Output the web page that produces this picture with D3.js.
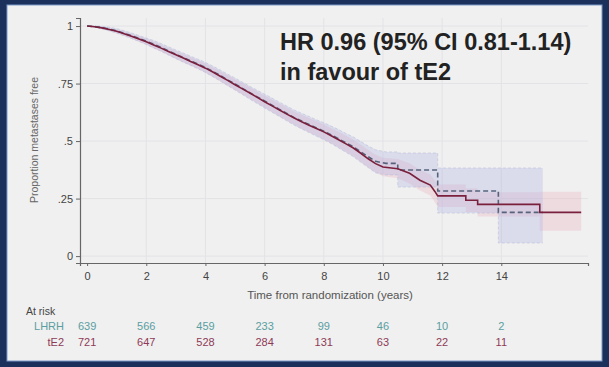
<!DOCTYPE html>
<html>
  <head>
    <script src="https://d3js.org/d3.v7.min.js"></script>
    <style>
      body { margin: 0; background: #f0f0f0; }
      text { font-family: "Liberation Sans", Arial, sans-serif; }
    </style>
  </head>
  <body>
    <script>

    // Kaplan-Meier estimates (years, proportion free);
    // a repeated time is a vertical drop of the step curve
    const lhrhTime = [0, .25, .5, .75, 1, 1.25, 1.5, 1.75, 2, 2.25, 2.5, 2.75, 3, 3.25, 3.5, 3.75, 4, 4.25, 4.5, 4.75,
      5, 5.25, 5.5, 5.75, 6, 6.25, 6.5, 6.75, 7, 7.25, 7.5, 7.75, 8, 8.25, 8.5, 8.75, 9, 9.25, 9.5, 9.75,
      10.1, 10.5, 10.5, 11.85, 11.85, 13.9, 13.9, 15.4];
    const lhrhSurv = [1, .998, .993, .987, .979, .969, .958, .946, .934, .921, .907, .892, .877, .863, .849, .835, .820, .803, .785, .766,
      .748, .729, .710, .692, .674, .656, .638, .620, .602, .587, .572, .557, .543, .527, .510, .492, .475, .453, .432, .412,
      .403, .403, .374, .374, .283, .283, .19, .19];
    const lhrhLo = [1, .996, .987, .979, .969, .958, .946, .933, .920, .905, .890, .874, .858, .843, .829, .814, .798, .780, .761, .741,
      .722, .702, .682, .663, .644, .625, .607, .588, .569, .553, .537, .521, .506, .489, .470, .451, .432, .408, .385, .362,
      .353, .353, .300, .300, .187, .187, .057, .057];
    const lhrhHi = [1, 1, .999, .995, .989, .980, .970, .959, .948, .937, .924, .910, .896, .883, .869, .856, .842, .826, .809, .791,
      .774, .756, .738, .721, .704, .687, .669, .652, .635, .621, .607, .593, .580, .565, .550, .533, .518, .498, .479, .462,
      .453, .453, .448, .448, .383, .383, .383, .383];

    const te2Time = [0, .25, .5, .75, 1, 1.25, 1.5, 1.75, 2, 2.25, 2.5, 2.75, 3, 3.25, 3.5, 3.75, 4, 4.25, 4.5, 4.75,
      5, 5.25, 5.5, 5.75, 6, 6.25, 6.5, 6.75, 7, 7.25, 7.5, 7.75, 8, 8.25, 8.5, 8.75, 9, 9.25, 9.5, 9.75,
      10, 10.5, 10.9, 11.25, 11.6, 11.76, 11.85, 12.8, 12.8, 13.2, 13.2, 15.3, 15.3, 16.7];
    const te2Surv = [1, .997, .992, .985, .977, .967, .956, .944, .932, .918, .904, .889, .875, .861, .846, .832, .817, .800, .782, .764,
      .745, .727, .709, .690, .671, .653, .635, .617, .600, .584, .569, .555, .540, .523, .506, .488, .470, .447, .423, .402,
      .387, .380, .360, .330, .309, .280, .262, .262, .243, .243, .225, .225, .190, .190];
    const te2Lo = [1, .995, .987, .978, .969, .957, .945, .932, .919, .904, .889, .873, .858, .843, .828, .813, .797, .779, .760, .741,
      .722, .703, .684, .664, .645, .626, .607, .588, .571, .554, .538, .523, .508, .490, .472, .453, .434, .410, .385, .363,
      .347, .338, .316, .285, .263, .233, .213, .213, .192, .192, .172, .172, .110, .110];
    const te2Hi = [1, .999, .997, .992, .985, .977, .967, .956, .945, .932, .919, .905, .892, .879, .864, .851, .837, .821, .804, .787,
      .768, .751, .734, .716, .697, .680, .663, .646, .629, .614, .600, .587, .572, .556, .540, .523, .506, .484, .461, .441,
      .427, .422, .404, .375, .355, .327, .311, .311, .294, .294, .278, .278, .280, .280];

    const xTicks = [0, 2, 4, 6, 8, 10, 12, 14];
    const yTicks = [0, .25, .5, .75, 1];
    const riskGroups = ["LHRH", "tE2"];
    const riskLHRH = [639, 566, 459, 233, 99, 46, 10, 2];
    const riskTE2 = [721, 647, 528, 284, 131, 63, 22, 11];

    const width = 609;
    const height = 367;

    const svg = d3.select("body").append("svg")
        .attr("width", width)
        .attr("height", height);

    // slide frame
    svg.append("rect").attr("width", width).attr("height", height).attr("fill", "#1b315c");
    svg.append("rect").attr("x", 7).attr("y", 5).attr("width", 595).attr("height", 356)
        .attr("fill", "#f0f0f0").attr("stroke", "#7d9ac8").attr("stroke-width", 1);

    const x = d3.scaleLinear().domain([-0.24, 16.93]).range([80, 588]);
    const y = d3.scaleLinear().domain([-0.03, 1.035]).range([263, 18]);

    // gridlines
    svg.append("g").selectAll("line").data(xTicks.slice(1)).join("line")
        .attr("x1", d => x(d)).attr("x2", d => x(d))
        .attr("y1", y(1.035)).attr("y2", y(-0.03))
        .attr("stroke", "#e3e3e7").attr("stroke-width", 1);
    svg.append("g").selectAll("line").data(yTicks).join("line")
        .attr("x1", x(-0.24)).attr("x2", x(16.93))
        .attr("y1", d => y(d)).attr("y2", d => y(d))
        .attr("stroke", "#e3e3e7").attr("stroke-width", 1);

    function toRows(t, s, lo, hi) {
      return t.map((d, i) => ({ t: d, s: s[i], lo: lo[i], hi: hi[i] }));
    }
    const lhrh = toRows(lhrhTime, lhrhSurv, lhrhLo, lhrhHi);
    const te2 = toRows(te2Time, te2Surv, te2Lo, te2Hi);

    const band = d3.area()
        .x(d => x(d.t)).y0(d => y(d.lo)).y1(d => y(d.hi));
    const line = d3.line()
        .x(d => x(d.t)).y(d => y(d.s));

    svg.append("path").datum(te2).attr("d", band)
        .attr("fill", "#e8b4c4").attr("fill-opacity", 0.35);
    svg.append("path").datum(lhrh).attr("d", band)
        .attr("fill", "#aab0e4").attr("fill-opacity", 0.32);

    // faint CI edges of LHRH
    ["lo", "hi"].forEach(k => {
      svg.append("path").datum(lhrh)
        .attr("d", d3.line().x(d => x(d.t)).y(d => y(d[k])))
        .attr("fill", "none").attr("stroke", "#b6b9d6").attr("stroke-width", 1)
        .attr("stroke-dasharray", "3,2").attr("opacity", 0.5);
    });

    svg.append("path").datum(lhrh).attr("d", line)
        .attr("fill", "none").attr("stroke", "#56627a").attr("stroke-width", 1.6)
        .attr("stroke-dasharray", "5,3");
    svg.append("path").datum(te2).attr("d", line)
        .attr("fill", "none").attr("stroke", "#7a1f3c").attr("stroke-width", 1.6);

    // axes
    const xAxis = svg.append("g").attr("transform", `translate(0,${y(-0.03)})`)
        .call(d3.axisBottom(x).tickValues(xTicks).tickSize(3).tickPadding(6).tickFormat(d3.format("d")));
    const yAxis = svg.append("g").attr("transform", `translate(${x(-0.24)},0)`)
        .call(d3.axisLeft(y).tickValues(yTicks).tickSize(4).tickPadding(3)
          .tickFormat(d => d === 0 ? "0" : d === 1 ? "1" : d3.format(".2~f")(d).replace(/^0/, "")));
    [xAxis, yAxis].forEach(g => {
      g.select(".domain").attr("stroke", "#666").attr("stroke-width", 1.2);
      g.selectAll(".tick line").attr("stroke", "#666");
      g.selectAll(".tick text").attr("fill", "#444").style("font-size", "11px");
    });

    svg.append("text")
        .attr("transform", `translate(38,140) rotate(-90)`)
        .attr("text-anchor", "middle")
        .style("font-size", "10.5px").attr("fill", "#666")
        .text("Proportion metastases free");

    svg.append("text")
        .attr("x", 330).attr("y", 299)
        .attr("text-anchor", "middle")
        .style("font-size", "11.5px").attr("fill", "#555")
        .text("Time from randomization (years)");

    // at-risk table
    svg.append("text").attr("x", 26).attr("y", 315)
        .style("font-size", "10.5px").attr("fill", "#444").text("At risk");
    const riskColors = ["#5a9ea2", "#8e3a56"];
    [riskLHRH, riskTE2].forEach((row, i) => {
      const yy = 330 + i * 16;
      svg.append("text").attr("x", 64).attr("y", yy).attr("text-anchor", "end")
          .style("font-size", "11px").attr("fill", riskColors[i]).text(riskGroups[i]);
      svg.append("g").selectAll("text").data(row).join("text")
          .attr("x", (d, j) => x(xTicks[j])).attr("y", yy)
          .attr("text-anchor", "middle")
          .style("font-size", "11px").attr("fill", riskColors[i])
          .text(d => d);
    });

    // annotation
    const note = svg.append("g").style("font-family", "Lato, 'Open Sans', sans-serif")
        .style("font-weight", "bold").attr("fill", "#222");
    note.append("text").attr("x", 280).attr("y", 50).style("font-size", "23.5px")
        .text("HR 0.96 (95% CI 0.81-1.14)");
    note.append("text").attr("x", 280).attr("y", 80).style("font-size", "23.5px")
        .text("in favour of tE2");

    </script>
  </body>
</html>
